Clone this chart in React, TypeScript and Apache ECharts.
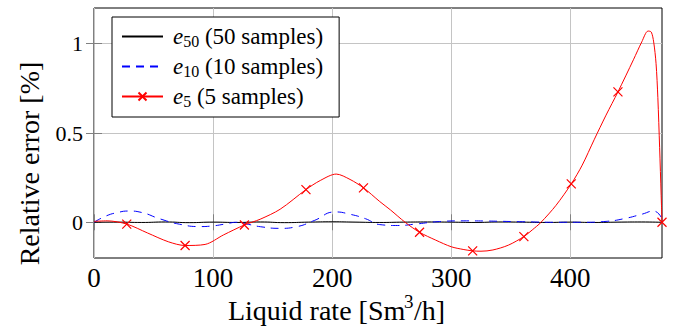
import React, { useEffect, useRef } from "react";
import * as echarts from "echarts";

const FONT = "Liberation Serif";
const FW = "normal";

// e50 (50 samples)
const e50X = [0, 20, 40, 60, 80, 100, 120, 140, 160, 180, 200, 220, 240, 260, 280, 300, 320, 340, 360, 380, 400, 420, 440, 460, 477];
const e50Y = [0, 0.001, -0.001, 0.002, -0.002, 0.001, -0.001, 0.002, -0.002, 0.001, 0.003, 0.001, -0.001, 0.001, 0.002, 0.001, -0.001, 0.002, 0.001, -0.001, 0.001, -0.001, 0.001, 0.002, 0];

// e10 (10 samples)
const e10X = [0, 10, 20, 29, 40, 55, 72, 89, 100, 110, 120, 130, 140, 156, 170, 185, 202.5, 215, 228, 240, 255, 270, 290, 310, 330, 360, 390, 410, 430, 445, 460, 470, 477];
const e10Y = [0, 0.035, 0.055, 0.063, 0.055, 0.02, -0.011, -0.024, -0.02, -0.01, 0, -0.012, -0.025, -0.034, -0.025, 0.01, 0.058, 0.045, 0.02, -0.013, -0.018, -0.01, 0.004, 0.008, 0.007, 0.003, 0, 0, 0.005, 0.02, 0.045, 0.063, 0.02];

// e5 (5 samples)
const e5X = [0, 11, 27.5, 45, 62.4, 76.5, 93.3, 108.7, 126.3, 139.5, 156.3, 178, 190, 203.4, 215, 226.3, 240, 249, 261.3, 273.4, 287, 300, 310, 318, 325, 335, 348, 361, 368, 375.4, 388, 400.8, 410, 420, 430, 440, 453, 460, 465.3, 468, 470, 472, 473.5, 475, 476.3, 477];
const e5Y = [0.005, 0.008, -0.01, -0.06, -0.109, -0.13, -0.124, -0.071, -0.015, 0.017, 0.073, 0.183, 0.234, 0.27, 0.24, 0.193, 0.116, 0.069, 0, -0.056, -0.1, -0.137, -0.152, -0.16, -0.162, -0.155, -0.128, -0.08, -0.043, 0, 0.095, 0.215, 0.32, 0.462, 0.6, 0.73, 0.91, 1.01, 1.071, 1.065, 1.01, 0.89, 0.7, 0.42, 0.15, 0];
const e5MarkerX = [27.5, 76.5, 126.3, 178, 226.3, 273.4, 318, 361, 400.8, 440, 477];

const xTicks = [0, 100, 200, 300, 400];
const yTicks = [0, 0.5, 1];
const xTitle = "Liquid rate [Sm";
const xTitleSup = "3";
const xTitleEnd = "/h]";
const yTitle = "Relative error [%]";

const CROSS = "path://M0,0L10,10M10,0L0,10";

export default function App() {
  const ref = useRef<HTMLDivElement>(null);
  useEffect(() => {
    if (!ref.current) return;
    const chart = echarts.init(ref.current, undefined, { renderer: "svg" });
    const zip = (xs: number[], ys: number[]) => xs.map((x, i) => [x, ys[i]]);
    const e5Data = e5X.map((x, i) =>
      e5MarkerX.includes(x) ? { value: [x, e5Y[i]] } : { value: [x, e5Y[i]], symbol: "none" }
    );
    const tickStyle = { show: true, inside: true, length: 8, lineStyle: { color: "#808080", width: 1 } };
    const labels: Record<string, string> = {
      e50: "{i|e}{s|50}{t| (50 samples)}",
      e10: "{i|e}{s|10}{t| (10 samples)}",
      e5: "{i|e}{s|5}{t| (5 samples)}",
    };
    const txt = (size: number, extra: any = {}) => ({ fontFamily: FONT, fontWeight: FW, fontSize: size, color: "#000", ...extra });
    chart.setOption({
      animation: false,
      grid: { left: 94, right: 11, top: 8, bottom: 69, show: true, borderColor: "#000", borderWidth: 1, backgroundColor: "transparent" },
      graphic: [
        {
          type: "group",
          left: "center",
          top: 292,
          children: [
            { type: "text", x: 0, y: 0, style: { text: xTitle, fontFamily: FONT, fontSize: 28, fill: "#000" } },
            { type: "text", x: 176, y: -4, style: { text: xTitleSup, fontFamily: FONT, fontSize: 19, fill: "#000" } },
            { type: "text", x: 186, y: 0, style: { text: xTitleEnd, fontFamily: FONT, fontSize: 28, fill: "#000" } },
          ],
        },
        {
          type: "text",
          left: 15,
          top: "center",
          rotation: Math.PI / 2,
          style: { text: yTitle, fontFamily: FONT, fontSize: 28, fill: "#000" },
        },
      ],
      legend: {
        left: 112,
        top: 17,
        orient: "vertical",
        backgroundColor: "#fff",
        borderColor: "#000",
        borderWidth: 1,
        borderRadius: 0,
        padding: [8, 16, 8, 9],
        itemGap: 6,
        itemWidth: 41,
        itemHeight: 10,
        data: ["e50", "e10", "e5"],
        formatter: (n: string) => labels[n],
        textStyle: {
          ...txt(23),
          rich: {
            i: txt(23, { fontStyle: "italic", padding: [0, 0, 0, 5] }),
            s: txt(16, { padding: [9, 0, 0, 0] }),
            t: txt(23),
          },
        },
      },
      xAxis: [
        {
          type: "value",
          min: 0,
          max: 477,
          position: "bottom",
          axisLine: { show: false },
          axisTick: { ...tickStyle, customValues: xTicks },
          axisLabel: { customValues: xTicks, ...txt(27), margin: 6 },
          splitLine: { show: true, lineStyle: { color: "#c4c4c4", width: 1 } },
        },
        {
          type: "value",
          min: 0,
          max: 477,
          position: "top",
          axisLine: { show: false },
          axisTick: { ...tickStyle, customValues: xTicks },
          axisLabel: { show: false },
          splitLine: { show: false },
        },
      ],
      yAxis: [
        {
          type: "value",
          min: -0.2,
          max: 1.2,
          position: "left",
          axisLine: { show: false },
          axisTick: { ...tickStyle, customValues: yTicks },
          axisLabel: { customValues: yTicks, ...txt(22), margin: 11 },
          splitLine: { show: true, lineStyle: { color: "#c4c4c4", width: 1 } },
        },
        {
          type: "value",
          min: -0.2,
          max: 1.2,
          position: "right",
          axisLine: { show: false },
          axisTick: { ...tickStyle, customValues: yTicks },
          axisLabel: { show: false },
          splitLine: { show: false },
        },
      ],
      series: [
        {
          name: "e50",
          type: "line",
          xAxisIndex: 0,
          yAxisIndex: 0,
          data: zip(e50X, e50Y),
          symbol: "none",
          smooth: true,
          lineStyle: { color: "#000", width: 1 },
          itemStyle: { color: "rgba(0,0,0,0)" },
          z: 3,
        },
        {
          name: "e10",
          type: "line",
          xAxisIndex: 0,
          yAxisIndex: 0,
          data: zip(e10X, e10Y),
          symbol: "none",
          smooth: true,
          lineStyle: { color: "#0000ff", width: 1, type: [8, 6] },
          itemStyle: { color: "rgba(0,0,0,0)" },
          z: 4,
        },
        {
          name: "e5",
          type: "line",
          xAxisIndex: 0,
          yAxisIndex: 0,
          data: e5Data,
          symbol: CROSS,
          symbolSize: 9,
          showSymbol: true,
          showAllSymbol: true,
          smooth: 0.3,
          lineStyle: { color: "#ff0000", width: 1 },
          itemStyle: { color: "#ff0000", borderColor: "#ff0000", borderWidth: 1.2 },
          z: 5,
        },
      ],
    });
    return () => chart.dispose();
  }, []);
  return <div ref={ref} style={{ position: "fixed", left: 0, top: 0, width: 673, height: 327, background: "#fff" }} />;
}
